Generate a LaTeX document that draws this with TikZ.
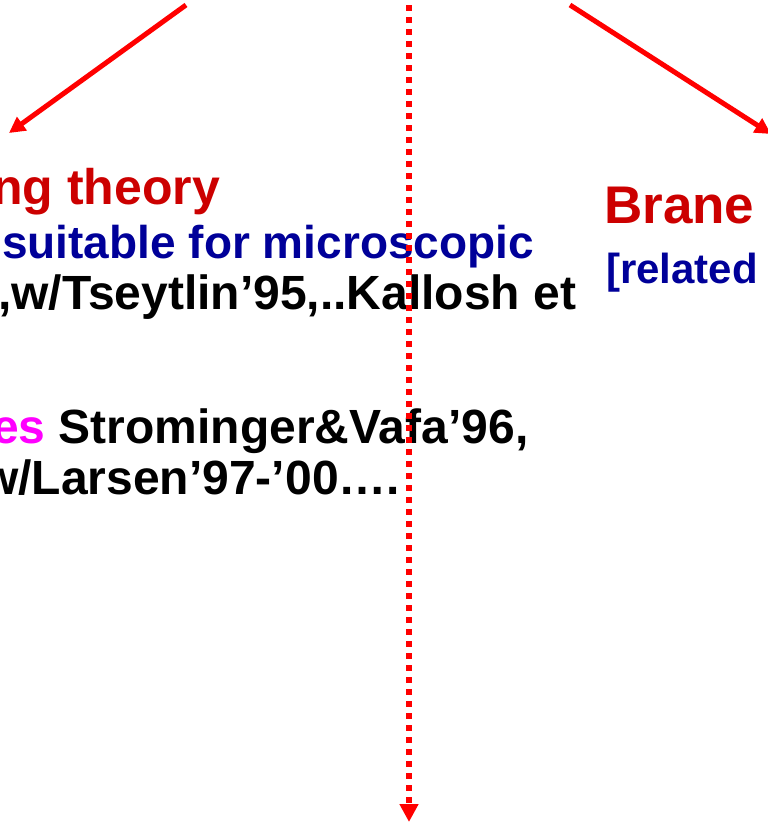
\documentclass[tikz,border=0pt]{standalone}
\usepackage{fontspec}
\setmainfont{Liberation Sans}
\usetikzlibrary{arrows.meta}

\begin{document}
\begin{tikzpicture}[x=1pt,y=1pt,yscale=-1,xscale=1,
  redarrow/.style={draw={rgb, 255:red, 255; green, 0; blue, 0 }, line width=5pt, -{Triangle[length=16pt,width=16pt]}},
  dotarrow/.style={draw={rgb, 255:red, 255; green, 0; blue, 0 }, line width=5.5pt, dash pattern=on 6pt off 6pt, -{Triangle[length=18pt,width=18pt]}},
  txt/.style={anchor=base west, inner sep=0pt, font=\bfseries\fontsize{48}{52}\selectfont},
  ttl/.style={txt, text={rgb, 255:red, 204; green, 0; blue, 0 }},
  blu/.style={txt, font=\bfseries\fontsize{46}{50}\selectfont, text={rgb, 255:red, 0; green, 0; blue, 153 }}]
\useasboundingbox (0,0) rectangle (768,822);
\clip (0,0) rectangle (768,822);

% Text Node
\node [ttl, font=\bfseries\fontsize{50}{54}\selectfont] (string) at (-8,204) {ng theory};
% Text Node
\node [blu] (suit) at (2,258) {suitable for microscopic};
% Text Node
\node [txt] (tseyt) at (-2,309) {,w/Tseytlin’95,..Kallosh et};
% Text Node
\node [txt] (strom) at (-8,443) {\textcolor[RGB]{255,0,255}{es} Strominger\&Vafa’96,};
% Text Node
\node [txt] (lars) at (-19,494) {w/Larsen’97-’00….};
% Text Node
\node [ttl, font=\bfseries\fontsize{53}{57}\selectfont] (brane) at (604,223) {Brane};
% Text Node
\node [blu, font=\bfseries\fontsize{42}{46}\selectfont] (rel) at (606,283) {[related};

%Arrows
\coordinate (lstart) at (186,5);
\coordinate (lend) at (9,133);
\coordinate (rstart) at (570,5);
\coordinate (rend) at (771,134);
\coordinate (dstart) at (409,5);
\coordinate (dend) at (409,822);
\draw [redarrow] (lstart) -- (lend);
\draw [redarrow] (rstart) -- (rend);
\draw [dotarrow] (dstart) -- (dend);

\end{tikzpicture}
\end{document}
